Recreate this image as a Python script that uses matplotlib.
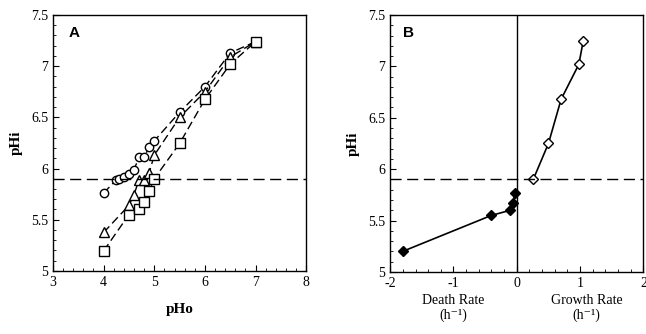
import matplotlib
matplotlib.use("Agg")
import matplotlib.pyplot as plt
from matplotlib.ticker import MultipleLocator

plt.rcParams["font.family"] = ["Liberation Serif", "DejaVu Serif"]
plt.rcParams["axes.unicode_minus"] = False

# panel A: pHi vs pHo, three series
circ_x = [4.0, 4.25, 4.3, 4.4, 4.5, 4.6, 4.7, 4.8, 4.9, 5.0, 5.5, 6.0, 6.5, 7.0]
circ_y = [5.76, 5.89, 5.90, 5.92, 5.945, 5.99, 6.11, 6.11, 6.21, 6.27, 6.55, 6.80, 7.13, 7.24]
tri_x = [4.0, 4.5, 4.6, 4.7, 4.8, 4.9, 5.0, 5.5, 6.0, 6.5, 7.0]
tri_y = [5.375, 5.64, 5.745, 5.89, 5.89, 5.96, 6.13, 6.50, 6.75, 7.09, 7.24]
sq_x = [4.0, 4.5, 4.7, 4.8, 4.9, 5.0, 5.5, 6.0, 6.5, 7.0]
sq_y = [5.195, 5.55, 5.60, 5.675, 5.78, 5.90, 6.245, 6.675, 7.02, 7.24]

# panel B: pHi vs death / growth rate
death_x = [-1.8, -0.4, -0.1, -0.06, -0.03]
death_y = [5.2, 5.55, 5.6, 5.67, 5.77]
growth_x = [0.26, 0.5, 0.7, 0.98, 1.05]
growth_y = [5.9, 6.25, 6.68, 7.02, 7.25]

threshold = 5.9

fig = plt.figure(figsize=(6.46, 3.34), dpi=100)
ax_a = fig.add_axes([0.082, 0.189, 0.392, 0.766])
ax_b = fig.add_axes([0.604, 0.186, 0.392, 0.769])

dash = (0, (6, 3))
mk = dict(markerfacecolor="white", markeredgecolor="black", markeredgewidth=1.0)

ax_a.plot(circ_x, circ_y, color="black", lw=1, ls=dash, marker="o", ms=6, **mk)
ax_a.plot(tri_x, tri_y, color="black", lw=1, ls=dash, marker="^", ms=6.5, **mk)
ax_a.plot(sq_x, sq_y, color="black", lw=1, ls=dash, marker="s", ms=6.5, **mk)
ax_a.axhline(threshold, color="black", lw=1, ls=(0, (8, 4)))
ax_a.set_xlim(3, 8)
ax_a.set_ylim(5, 7.5)
ax_a.set_xticks([3, 4, 5, 6, 7, 8])
ax_a.set_yticks([5, 5.5, 6, 6.5, 7, 7.5])
ax_a.set_yticklabels(["5", "5.5", "6", "6.5", "7", "7.5"])
ax_a.xaxis.set_minor_locator(MultipleLocator(0.2))
ax_a.set_xlabel("pHo", fontsize=11, fontweight="bold", labelpad=10)
ax_a.set_ylabel("pHi", fontsize=11, fontweight="bold", labelpad=6)
ax_a.text(0.06, 0.93, "A", transform=ax_a.transAxes, fontsize=11,
          fontweight="bold", family="Liberation Sans", va="center")

ax_b.plot(death_x, death_y, color="black", lw=1.2, marker="D", ms=5.5,
          markerfacecolor="black", markeredgecolor="black")
ax_b.plot(growth_x, growth_y, color="black", lw=1.2, marker="D", ms=5.5, **mk)
ax_b.axhline(threshold, color="black", lw=1, ls=(0, (8, 4)))
ax_b.axvline(0, color="black", lw=1)
ax_b.set_xlim(-2, 2)
ax_b.set_ylim(5, 7.5)
ax_b.set_xticks([-2, -1, 0, 1, 2])
ax_b.set_xticklabels(["-2", "-1", "0", "1", "2"])
ax_b.set_yticks([5, 5.5, 6, 6.5, 7, 7.5])
ax_b.set_yticklabels(["5", "5.5", "6", "6.5", "7", "7.5"])
ax_b.xaxis.set_minor_locator(MultipleLocator(0.2))
ax_b.set_ylabel("pHi", fontsize=11, fontweight="bold", labelpad=6)
ax_b.text(0.05, 0.93, "B", transform=ax_b.transAxes, fontsize=11,
          fontweight="bold", family="Liberation Sans", va="center")
ax_b.text(-1.0, -0.085, "Death Rate\n(h\u207b\u00b9)", transform=ax_b.get_xaxis_transform(),
          ha="center", va="top", fontsize=10, linespacing=1.2)
ax_b.text(1.1, -0.085, "Growth Rate\n(h\u207b\u00b9)", transform=ax_b.get_xaxis_transform(),
          ha="center", va="top", fontsize=10, linespacing=1.2)

for ax in (ax_a, ax_b):
    ax.yaxis.set_minor_locator(MultipleLocator(0.1))
    ax.tick_params(which="both", direction="in", labelsize=10)
    ax.tick_params(which="major", length=4)
    ax.tick_params(which="minor", length=2)
    for s in ax.spines.values():
        s.set_linewidth(1)

fig.savefig("out.png", dpi=100)
